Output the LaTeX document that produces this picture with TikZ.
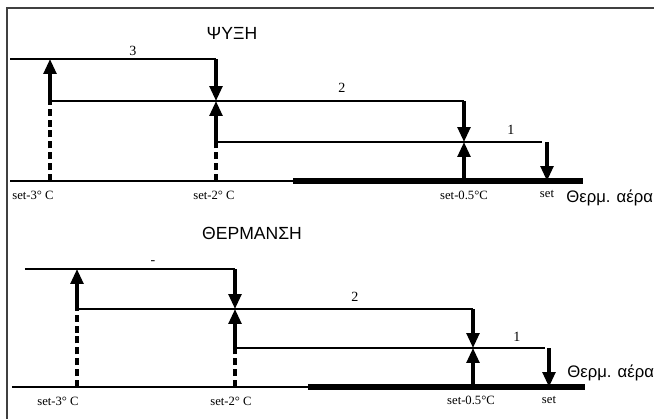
\documentclass[tikz,border=0pt]{standalone}
\usepackage{fontspec}
\setmainfont{Liberation Serif}
\setsansfont{Liberation Sans}
\usetikzlibrary{arrows.meta}

\begin{document}
\begin{tikzpicture}[x=0.02cm, y=-0.02cm,
    % Thin horizontal lines for the stages
    lvl/.style={line width=0.9pt},
    % Switching arrows (thick shaft, filled head)
    sw/.style={-{Triangle[length=8.5pt, width=7.2pt]}, line width=1.9pt},
    % Dashed drop lines down to the axis
    drop/.style={dash pattern=on 4pt off 2.2pt, line width=1.9pt},
    % Temperature axis (thin left part, heavy right part)
    axthin/.style={line width=1.4pt},
    axthick/.style={line width=3pt},
    % Labels
    tick/.style={font=\fontsize{7.2}{8}\selectfont, inner sep=0pt},
    stage/.style={font=\fontsize{8}{9}\selectfont, inner sep=0pt},
    ttl/.style={font=\sffamily\fontsize{10}{12}\selectfont, inner sep=0pt},
    axlbl/.style={font=\sffamily\fontsize{9.5}{11}\selectfont, inner sep=0pt, anchor=west}
]

\useasboundingbox (0,0) rectangle (654,419);

% Frame (top and left edges only)
\draw[line width=1pt, black!75] (7,419) -- (7,8) -- (654,8);

% ==========================
% Cooling
% ==========================
\node[ttl] (cTitle) at (232,33) {ΨΥΞΗ};

% Points on the axis and on the stage lines
\coordinate (cX0) at (10,181);
\coordinate (cXm) at (293,181);
\coordinate (cX1) at (583,181);
\coordinate (cL3) at (10,59);
\coordinate (cA)  at (50,181);
\coordinate (cA2) at (50,101);
\coordinate (cA3) at (50,59);
\coordinate (cB)  at (216,181);
\coordinate (cB1) at (216,142);
\coordinate (cB2) at (216,101);
\coordinate (cB3) at (216,59);
\coordinate (cC)  at (464,181);
\coordinate (cC1) at (464,142);
\coordinate (cC2) at (464,101);
\coordinate (cL1) at (542,142);
\coordinate (cD)  at (547,181);
\coordinate (cD1) at (547,142);

% Axis
\draw[axthin] (cX0) -- (cX1);
\draw[axthick] (cXm) -- (cX1);

% Stage lines
\draw[lvl] (cL3) -- (cB3);
\draw[lvl] (cA2) -- (cC2);
\draw[lvl] (cB1) -- (cL1);

% Drop lines
\draw[drop] (cA) -- (cA2);
\draw[drop] (cB) -- (cB1);

% Switching arrows
\draw[sw] (cA2) -- (cA3);
\draw[sw] (cB3) -- (cB2);
\draw[sw] (cB1) -- (cB2);
\draw[sw] (cC2) -- (cC1);
\draw[sw] (cC) -- (cC1);
\draw[sw] (cD1) -- (cD);

% Stage numbers
\node[stage] (c3) at (133,51) {3};
\node[stage] (c2) at (342,88) {2};
\node[stage] (c1) at (511,130) {1};

% Axis labels
\node[tick] (cTA) at (33,195) {set-3° C};
\node[tick] (cTB) at (214,195) {set-2° C};
\node[tick] (cTC) at (464,195) {set-0.5°C};
\node[tick] (cTD) at (547,194) {set};
\node[axlbl] (cAx) at (566,198) {Θερμ. αέρα};

% ==========================
% Heating
% ==========================
\node[ttl] (hTitle) at (252,233) {ΘΕΡΜΑΝΣΗ};

% Points on the axis and on the stage lines
\coordinate (hX0) at (12,387);
\coordinate (hXm) at (308,387);
\coordinate (hX1) at (585,387);
\coordinate (hL3) at (25,269);
\coordinate (hA)  at (77,387);
\coordinate (hA2) at (77,309);
\coordinate (hA3) at (77,269);
\coordinate (hB)  at (235,387);
\coordinate (hB1) at (235,348);
\coordinate (hB2) at (235,309);
\coordinate (hB3) at (235,269);
\coordinate (hC)  at (473,387);
\coordinate (hC1) at (473,348);
\coordinate (hC2) at (473,309);
\coordinate (hL1) at (545,348);
\coordinate (hD)  at (549,387);
\coordinate (hD1) at (549,348);

% Axis
\draw[axthin] (hX0) -- (hX1);
\draw[axthick] (hXm) -- (hX1);

% Stage lines
\draw[lvl] (hL3) -- (hB3);
\draw[lvl] (hA2) -- (hC2);
\draw[lvl] (hB1) -- (hL1);

% Drop lines
\draw[drop] (hA) -- (hA2);
\draw[drop] (hB) -- (hB1);

% Switching arrows
\draw[sw] (hA2) -- (hA3);
\draw[sw] (hB3) -- (hB2);
\draw[sw] (hB1) -- (hB2);
\draw[sw] (hC2) -- (hC1);
\draw[sw] (hC) -- (hC1);
\draw[sw] (hD1) -- (hD);

% Stage numbers
\node[stage] (h3) at (153,263) {-};
\node[stage] (h2) at (355,297) {2};
\node[stage] (h1) at (517,337) {1};

% Axis labels
\node[tick] (hTA) at (58,401) {set-3° C};
\node[tick] (hTB) at (231,401) {set-2° C};
\node[tick] (hTC) at (471,400) {set-0.5°C};
\node[tick] (hTD) at (549,400) {set};
\node[axlbl] (hAx) at (567,373) {Θερμ. αέρα};

\end{tikzpicture}
\end{document}
